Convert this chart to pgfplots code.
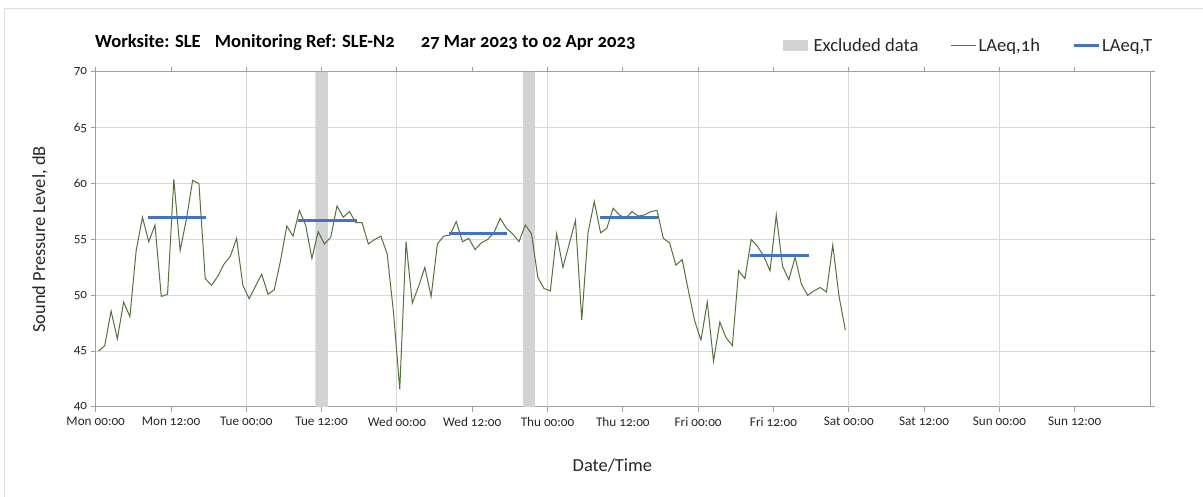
\documentclass[border=0pt]{standalone}
\usepackage{fontspec}
\setmainfont{Carlito}[Numbers=OldStyle]
\usepackage{pgfplots}
\usepackage{pgfplotstable}
\pgfplotsset{compat=1.18}
\definecolor{lgreen}{RGB}{84,114,58}
\definecolor{lblue}{RGB}{68,114,196}
\definecolor{bandc}{RGB}{211,211,211}
\definecolor{gridc}{RGB}{217,217,217}
\definecolor{axc}{RGB}{160,160,160}

\pgfplotstableread{
h v
0 45.0
1 45.5
2 48.6
3 46.1
4 49.4
5 48.1
6 54.0
7 57.0
8 54.8
9 56.3
10 49.9
11 50.1
12 60.4
13 54.0
14 56.8
15 60.3
16 60.0
17 51.5
18 50.9
19 51.7
20 52.8
21 53.5
22 55.1
23 50.9
24 49.7
25 50.8
26 51.9
27 50.1
28 50.5
29 53.1
30 56.2
31 55.3
32 57.6
33 56.3
34 53.3
35 55.7
36 54.6
37 55.2
38 58.0
39 57.0
40 57.5
41 56.5
42 56.5
43 54.6
44 55.0
45 55.3
46 53.7
47 48.5
48 41.6
49 54.8
50 49.3
51 50.8
52 52.5
53 49.9
54 54.6
55 55.3
56 55.4
57 56.6
58 54.8
59 55.1
60 54.1
61 54.7
62 55.0
63 55.6
64 56.9
65 56.0
66 55.5
67 54.8
68 56.3
69 55.5
70 51.6
71 50.6
72 50.4
73 55.5
74 52.5
75 54.6
76 56.7
77 47.8
78 55.6
79 58.4
80 55.6
81 56.0
82 57.8
83 57.2
84 56.9
85 57.5
86 57.1
87 57.2
88 57.5
89 57.6
90 55.1
91 54.7
92 52.7
93 53.2
94 50.4
95 47.7
96 46.0
97 49.4
98 44.1
99 47.6
100 46.2
101 45.5
102 52.2
103 51.5
104 55.0
105 54.4
106 53.5
107 52.2
108 57.2
109 52.6
110 51.4
111 53.4
112 51.0
113 50.0
114 50.4
115 50.7
116 50.3
117 54.5
118 49.9
119 46.9
}\laeq

\begin{document}
\begin{tikzpicture}[x=1pt,y=1pt]
\useasboundingbox (-95.7,-90) rectangle (1107.3,407);
\draw[black!13, line width=1pt] (-90.7,-91) -- (-90.7,398) -- (1108,398);
\node[anchor=base west, font=\bfseries\fontsize{18.6}{22}\selectfont, inner sep=0pt] at (-0.7,359)
  {Worksite: SLE\hspace*{14pt}Monitoring Ref: SLE-N2\hspace*{26pt}27 Mar 2023 to 02 Apr 2023};
\begin{axis}[
  at={(0,0)}, anchor=south west,
  scale only axis, width=1054.3pt, height=335pt,
  xmin=0, xmax=168, ymin=40, ymax=70,
  xtick={0,12,...,156},
  xticklabels={Mon 00:00, Mon 12:00, Tue 00:00, Tue 12:00, Wed 00:00, Wed 12:00, Thu 00:00, Thu 12:00, Fri 00:00, Fri 12:00, Sat 00:00, Sat 12:00, Sun 00:00, Sun 12:00},
  ytick={40,45,...,70},
  ymajorgrids,
  extra x ticks={24,48,...,144},
  extra x tick labels={},
  extra x tick style={grid=major, major tick length=0pt},
  major grid style={gridc, line width=1pt},
  axis line style={axc, line width=1pt},
  tick style={axc, line width=1pt},
  major tick length=5pt,
  tick align=outside,
  /pgf/number format/assume math mode=true,
  ticklabel style={font=\fontsize{13.2}{15}\selectfont, text=black!85},
  xticklabel style={yshift=-1.5pt},
  xlabel={Date/Time},
  ylabel={Sound Pressure Level, dB},
  label style={font=\fontsize{18.4}{21}\selectfont, text=black!85},
  xlabel style={at={(axis description cs:0.49,-0.176)}, anchor=center},
  ylabel style={at={(axis description cs:-0.053,0.5)}, anchor=center},
  legend style={at={(axis description cs:1.007,1.078)}, anchor=east, draw=none, fill=none,
    font=\fontsize{18.6}{22}\selectfont, text=black!85,
    /tikz/every even column/.append style={column sep=30pt}},
  legend columns=3,
]
\addplot[fill=bandc, draw=none,
  legend image code/.code={\fill[bandc] (-4pt,-5.5pt) rectangle (21pt,5.5pt); \path (25pt,0pt);}]
  coordinates {(35,40) (35,70) (37,70) (37,40) (35,40)};
\addlegendentry{Excluded data}
\addplot[fill=bandc, draw=none, forget plot]
  coordinates {(68.1,40) (68.1,70) (70.0,70) (70.0,40) (68.1,40)};
\addplot[lgreen, line width=1pt,
  legend image code/.code={\draw[lgreen, line width=1pt] (0pt,0pt) -- (25pt,0pt);}]
  table[x expr=\thisrow{h}+0.45, y=v] {\laeq};
\addlegendentry{LAeq,1h}
\addplot[lblue, line width=3pt,
  legend image code/.code={\draw[lblue, line width=3pt] (0pt,0pt) -- (25pt,0pt);}]
  coordinates {(8.4,56.95) (17.6,56.95)};
\addlegendentry{LAeq,T}
\addplot[lblue, line width=3pt, forget plot] coordinates {(32.3,56.7) (41.6,56.7)};
\addplot[lblue, line width=3pt, forget plot] coordinates {(56.3,55.5) (65.6,55.5)};
\addplot[lblue, line width=3pt, forget plot] coordinates {(80.4,57.0) (89.6,57.0)};
\addplot[lblue, line width=3pt, forget plot] coordinates {(104.3,53.6) (113.7,53.6)};
\end{axis}
\end{tikzpicture}
\end{document}
